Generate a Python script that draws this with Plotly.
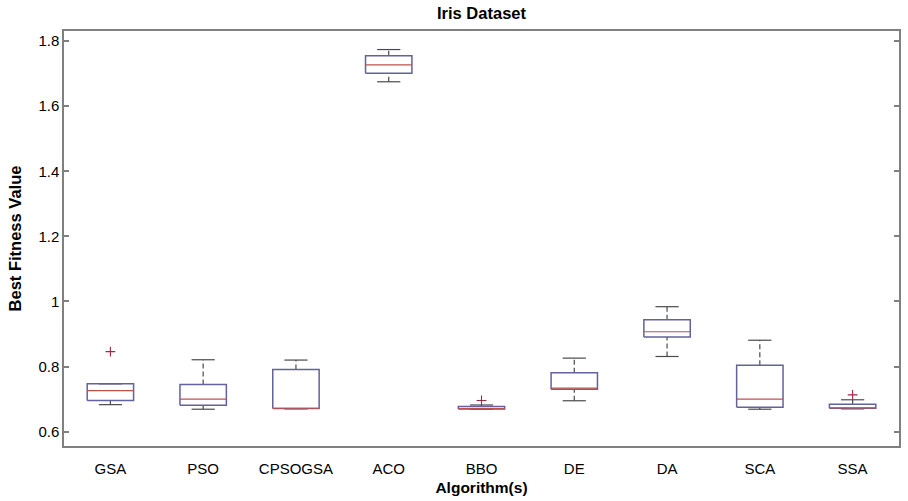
import plotly.graph_objects as go

# Box-plot statistics of the best fitness value per algorithm (Iris dataset)
algorithms = ["GSA", "PSO", "CPSOGSA", "ACO", "BBO", "DE", "DA", "SCA", "SSA"]
upper_whisker = [0.747, 0.821, 0.820, 1.774, 0.682, 0.826, 0.984, 0.881, 0.698]
q3 = [0.747, 0.745, 0.791, 1.755, 0.677, 0.781, 0.944, 0.804, 0.684]
median = [0.726, 0.700, 0.672, 1.727, 0.671, 0.734, 0.907, 0.700, 0.673]
q1 = [0.696, 0.681, 0.671, 1.701, 0.670, 0.730, 0.891, 0.675, 0.672]
lower_whisker = [0.683, 0.669, 0.670, 1.675, 0.669, 0.695, 0.831, 0.669, 0.670]
outlier_algorithm = ["GSA", "BBO", "SSA"]
outlier_value = [0.846, 0.696, 0.713]

y_ticks = [0.6, 0.8, 1.0, 1.2, 1.4, 1.6, 1.8]
y_tick_text = ["0.6", "0.8", "1", "1.2", "1.4", "1.6", "1.8"]

HALF_BOX = 0.25
HALF_CAP = 0.125
BOX_COLOR = "#62629e"
MEDIAN_COLOR = "#c0504d"
WHISKER_COLOR = "#4a4a4a"
FONT = "Arial, Liberation Sans, sans-serif"

positions = list(range(1, len(algorithms) + 1))

wx, wy = [], []   # dashed whisker stems
cx, cy = [], []   # whisker caps
bx, by = [], []   # box outlines
mx, my = [], []   # median lines
for p, lo, a, m, b, hi in zip(positions, lower_whisker, q1, median, q3, upper_whisker):
    wx += [p, p, None, p, p, None]
    wy += [b, hi, None, lo, a, None]
    cx += [p - HALF_CAP, p + HALF_CAP, None, p - HALF_CAP, p + HALF_CAP, None]
    cy += [hi, hi, None, lo, lo, None]
    bx += [p - HALF_BOX, p + HALF_BOX, p + HALF_BOX, p - HALF_BOX, p - HALF_BOX, None]
    by += [a, a, b, b, a, None]
    mx += [p - HALF_BOX, p + HALF_BOX, None]
    my += [m, m, None]

ox = [positions[algorithms.index(a)] for a in outlier_algorithm]

fig = go.Figure()
fig.add_trace(go.Scatter(x=wx, y=wy, mode="lines", hoverinfo="skip",
                         line=dict(color=WHISKER_COLOR, width=1.2, dash="5px,3px")))
fig.add_trace(go.Scatter(x=cx, y=cy, mode="lines", hoverinfo="skip",
                         line=dict(color=WHISKER_COLOR, width=1.2)))
fig.add_trace(go.Scatter(x=bx, y=by, mode="lines", hoverinfo="skip",
                         line=dict(color=BOX_COLOR, width=1.5)))
fig.add_trace(go.Scatter(x=mx, y=my, mode="lines", hoverinfo="skip",
                         line=dict(color=MEDIAN_COLOR, width=1.2)))
fig.add_trace(go.Scatter(x=ox, y=outlier_value, mode="markers",
                         marker=dict(symbol="cross-thin", size=7,
                                     line=dict(color="#a02840", width=1.1))))

fig.update_layout(
    width=908, height=501,
    margin=dict(l=64, r=7, t=31, b=51),
    paper_bgcolor="white", plot_bgcolor="white",
    showlegend=False,
    font=dict(family=FONT, size=15, color="black"),
    title=dict(text="<b>Iris Dataset</b>", x=0.5, xref="paper",
               y=1 - 13 / 501, yref="container", yanchor="middle",
               font=dict(family=FONT, size=16.5, color="black")),
)
fig.update_xaxes(
    range=[0.5, len(algorithms) + 0.5],
    tickvals=positions, ticktext=algorithms, ticks="",
    showgrid=False, zeroline=False,
    showline=True, mirror=True, linecolor="#808080", linewidth=1.5,
    ticklabelstandoff=8,
    title=dict(text="<b>Algorithm(s)</b>", standoff=6,
               font=dict(family=FONT, size=15.5, color="black")),
)
fig.update_yaxes(
    range=[0.556, 1.831],
    tickvals=y_ticks, ticktext=y_tick_text,
    ticks="inside", ticklen=5, tickcolor="#808080", tickwidth=1.5,
    showgrid=False, zeroline=False,
    showline=True, mirror="ticks", linecolor="#808080", linewidth=1.5,
    title=dict(text="<b>Best Fitness Value</b>", standoff=13,
               font=dict(family=FONT, size=16.5, color="black")),
)

fig.write_html("out.html")
